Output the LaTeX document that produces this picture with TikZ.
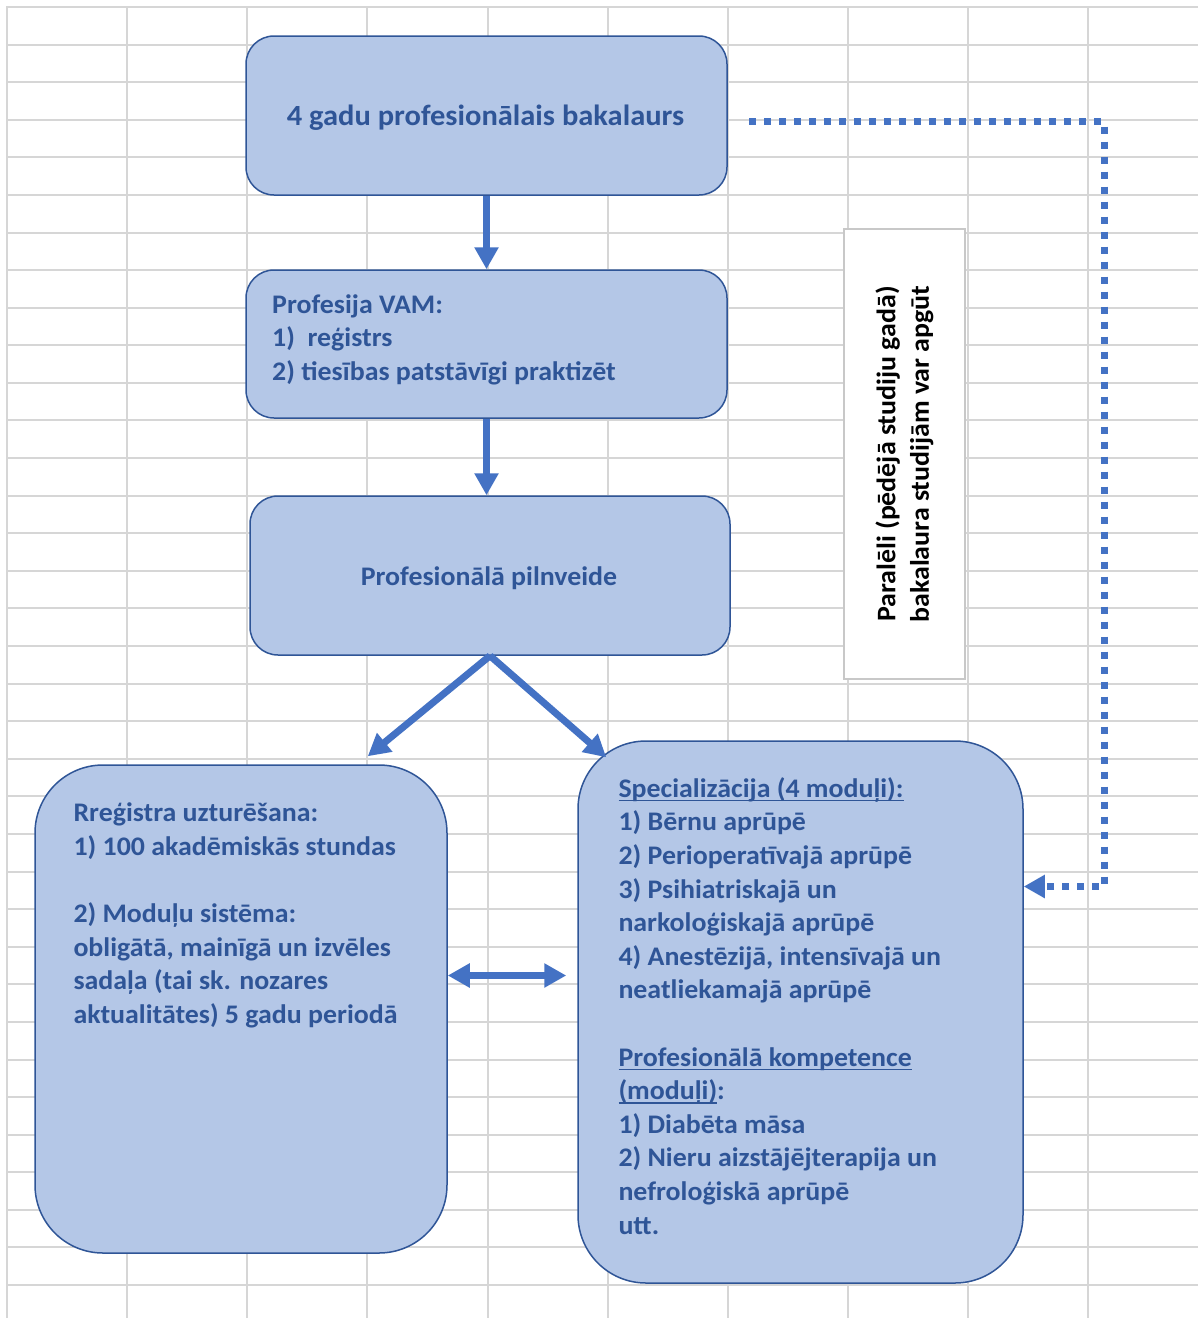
\documentclass[tikz,border=0pt]{standalone}
\usepackage{fontspec}
\setmainfont{Carlito}[FakeStretch=1.04]
\usetikzlibrary{arrows.meta,calc}
\definecolor{boxfill}{HTML}{B4C7E7}
\definecolor{boxline}{HTML}{2F5597}
\definecolor{arrowblue}{HTML}{4472C4}
\definecolor{gridgray}{HTML}{D6D6D6}
\definecolor{graybox}{HTML}{C8C8C8}
\newcommand\myul[1]{\setbox0\hbox{#1}\leavevmode\rlap{\rule[-4pt]{\wd0}{1.6pt}}\box0}
\begin{document}
\begin{tikzpicture}[x=1pt,y=-1pt,
 box/.style={draw=boxline, line width=1.5pt, fill=boxfill, rounded corners=28pt, inner sep=0pt},
 bigbox/.style={box, rounded corners=68pt},
 txt/.style={font=\bfseries\fontsize{26.8}{33.6}\selectfont, text=boxline, inner sep=0pt},
 bigtxt/.style={txt, font=\bfseries\fontsize{29.3}{33.6}\selectfont},
 arr/.style={draw=arrowblue, line width=7pt, -{Triangle[length=22pt,width=23pt]}},
 darr/.style={draw=arrowblue, line width=7pt, {Triangle[length=22pt,width=23pt]}-{Triangle[length=22pt,width=23pt]}},
 dotarr/.style={draw=arrowblue, line width=7pt, dash pattern=on 7pt off 8pt, -{Triangle[length=21pt,width=22pt]}},
 gridline/.style={draw=gridgray, line width=2pt}
]
\useasboundingbox (0,0) rectangle (1198,1318);
\fill[white] (0,0) rectangle (1198,1318);
% grid
\foreach \k in {0,...,34} \draw[gridline] (6,{7+37.59*\k}) -- (1198,{7+37.59*\k});
\foreach \k in {0,...,9} \draw[gridline] ({7.3+120.05*\k},6) -- ({7.3+120.05*\k},1318);

% boxes
\node[box, minimum width=481pt, minimum height=159pt] (a) at (486.5,115.5) {};
\node[box, minimum width=481pt, minimum height=148pt] (b) at (486.5,344) {};
\node[box, minimum width=480pt, minimum height=159pt] (c) at (490,575.5) {};
\node[bigbox, minimum width=412pt, minimum height=488pt] (d) at (241,1009) {};
\node[bigbox, minimum width=445pt, minimum height=542pt] (e) at (800.5,1012) {};
\node[draw=graybox, line width=1.5pt, fill=white, minimum width=450pt, minimum height=121pt, rotate=90, inner sep=0pt,
      font=\bfseries\fontsize{26.8}{33.6}\selectfont, align=center] (f) at (904.5,454)
      {Paralēli (pēdējā studiju gadā)\\bakalaura studijām var apgūt};

% texts
\node[bigtxt, anchor=base] (atext) at (485.5,125) {4 gadu profesionālais bakalaurs};
\node[txt, anchor=base] (ctext) at (489,585.5) {Profesionālā pilnveide};
\node[txt, anchor=base west] (btext) at (272,313.3) {\begin{tabular}[t]{@{}l@{}}Profesija VAM:\\1)~~reģistrs\\2) tiesības patstāvīgi praktizēt\end{tabular}};
\node[txt, anchor=base west] (dtext) at (73.3,821.7) {\begin{tabular}[t]{@{}l@{}}Rreģistra uzturēšana:\\1) 100 akadēmiskās stundas\\ \\2) Moduļu sistēma:\\obligātā, mainīgā un izvēles\\sadaļa (tai sk. nozares\\aktualitātes) 5 gadu periodā\end{tabular}};
\node[txt, anchor=base west] (etext) at (618.3,797.3) {\begin{tabular}[t]{@{}l@{}}\myul{Specializācija (4 moduļi):}\\1) Bērnu aprūpē\\2) Perioperatīvajā aprūpē\\3) Psihiatriskajā un\\narkoloģiskajā aprūpē\\4) Anestēzijā, intensīvajā un\\neatliekamajā aprūpē\\ \\\myul{Profesionālā kompetence}\\\myul{(moduļi)}:\\1) Diabēta māsa\\2) Nieru aizstājējterapija un\\nefroloģiskā aprūpē\\utt.\end{tabular}};

% arrows
\draw[arr] (a.south) -- (b.north);
\draw[arr] (b.south) -- (b.south |- c.north);
\draw[arr] (c.south) -- ($(d.north east)+(-80,-8)$);
\draw[arr] (c.south) -- ($(e.north west)+(29,17)$);
\draw[darr] ($(d.east)+(0,-33.5)$) -- ($(d.east -| e.west)+(-11,-33.5)$);

% dotted connector
\coordinate (dstart) at (749,121.5);
\coordinate (dc1) at (1104,121.5);
\coordinate (dc2) at (1104,886.5);
\draw[dotarr] (dstart) -- (dc1) -- (dc2) -- (e.east |- dc2);
\end{tikzpicture}
\end{document}
